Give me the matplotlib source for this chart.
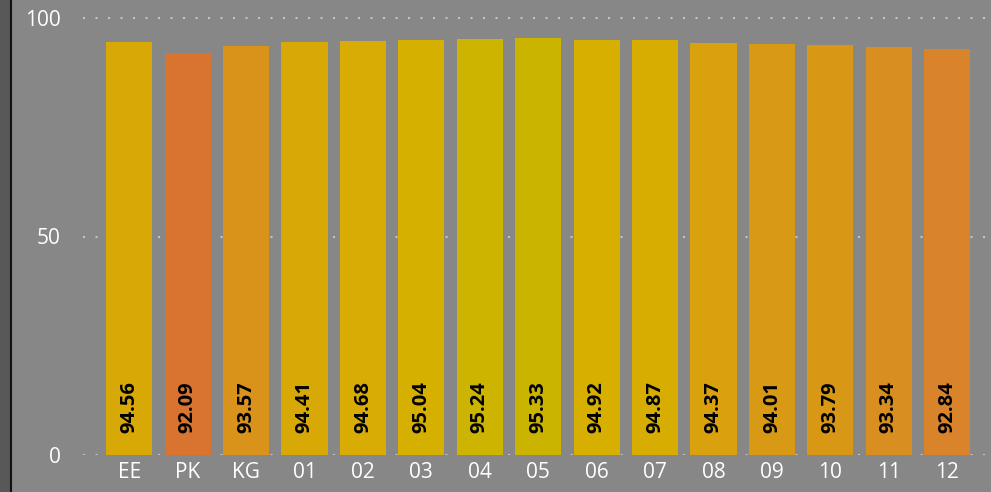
import matplotlib
matplotlib.use("Agg")
import matplotlib.pyplot as plt
from matplotlib.patches import Rectangle
from matplotlib.lines import Line2D

plt.rcParams["font.family"] = ["Open Sans", "DejaVu Sans"]

categories = ["EE", "PK", "KG", "01", "02", "03", "04", "05", "06", "07", "08", "09", "10", "11", "12"]
values = [94.56, 92.09, 93.57, 94.41, 94.68, 95.04, 95.24, 95.33, 94.92, 94.87, 94.37, 94.01, 93.79, 93.34, 92.84]
bar_colors = ["#D8A806", "#D97330", "#D9921A", "#D8A806", "#D8AC04", "#D6B000", "#CDB400",
              "#CAB400", "#D7AF00", "#D7AD02", "#D9A10E", "#D89A14", "#D89816", "#D98E20", "#D9832A"]
yticks = [0, 50, 100]

W, H = 991, 492
bg = "#878787"
fig = plt.figure(figsize=(W / 100, H / 100), dpi=100, facecolor=bg)

# left dark strip and border line
fig.patches.append(Rectangle((0, 0), 10 / W, 1, transform=fig.transFigure, color="#585858", zorder=0))
fig.lines.append(Line2D([11 / W, 11 / W], [0, 1], transform=fig.transFigure, color="#111111", lw=1.5))

ax_left, ax_right = 83 / W, 1.0
ax_bottom = (H - 455) / H
ymax = 103
px_per_unit = 437 / 100
ax_top_px = 455 - ymax * px_per_unit
ax = fig.add_axes([ax_left, ax_bottom, ax_right - ax_left, (455 - ax_top_px) / H])
ax.set_facecolor(bg)

x = list(range(len(categories)))
ax.bar(x, values, width=0.79, color=bar_colors, zorder=2)
for xi, v in zip(x, values):
    ax.text(xi, 5.0, f"{v:.2f}", rotation=90, ha="center", va="bottom",
            fontsize=14.5, color="black", fontweight="bold", zorder=3)

ax.set_xlim(-0.79, 14.75)
ax.set_ylim(0, ymax)
ax.set_yticks(yticks)
ax.set_yticklabels([str(t) for t in yticks])
ax.set_xticks(x)
ax.set_xticklabels(categories)
ax.tick_params(axis="both", length=0, colors="white", labelsize=15)
ax.tick_params(axis="y", pad=16)
ax.tick_params(axis="x", pad=5)
ax.grid(axis="y", color="#c4c4c4", linestyle=(0, (1, 5)), linewidth=1.5, zorder=1)
ax.set_axisbelow(True)
for s in ax.spines.values():
    s.set_visible(False)

fig.savefig("out.png", dpi=100, facecolor=bg)
